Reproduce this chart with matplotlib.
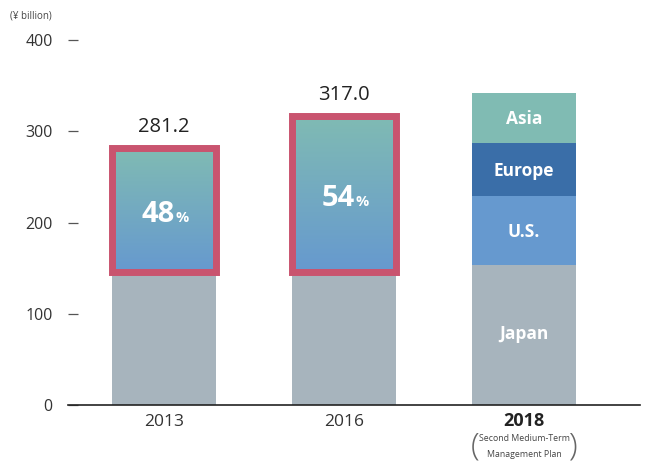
import numpy as np
import matplotlib
matplotlib.use("Agg")
import matplotlib.pyplot as plt
import matplotlib.transforms as mtransforms
from matplotlib.patches import Rectangle

# ---- data ----
years = ["2013", "2016", "2018"]
totals = [281.2, 317.0]
overseas_pct = [48, 54]
japan = [146.2, 145.8, 153.0]
plan_regions = ["U.S.", "Europe", "Asia"]
plan_values = [76.0, 58.0, 55.0]
yticks = [0, 100, 200, 300, 400]

plt.rcParams['font.family'] = ['Open Sans', 'DejaVu Sans']

gray = "#a7b4bd"
region_colors = {"U.S.": "#6699cf", "Europe": "#3a6ea8", "Asia": "#80bbb3"}
border = "#c9546f"
top_col = np.array([0x80, 0xbb, 0xb3]) / 255
bot_col = np.array([0x66, 0x99, 0xcf]) / 255

fig = plt.figure(figsize=(6.48, 4.63), dpi=100)
ax = fig.add_axes([68/648, 58/463, 572/648, 365/463])

x = np.arange(len(years))
w = 0.58

# Japan bars
ax.bar(x, japan, width=w, color=gray, zorder=2)

# gradient overseas boxes for 2013, 2016
grad = np.linspace(0, 1, 256)[:, None]
img = top_col[None, None, :] * (1 - grad[..., None]) + bot_col[None, None, :] * grad[..., None]
img = np.repeat(img, 2, axis=1)
for i, tot in enumerate(totals):
    ax.imshow(img, extent=(x[i]-w/2, x[i]+w/2, japan[i], tot), aspect='auto',
              origin='upper', zorder=3, interpolation='bilinear')
    ax.add_patch(Rectangle((x[i]-w/2, japan[i]), w, tot-japan[i], fill=False,
                           edgecolor=border, linewidth=5, zorder=4, joinstyle='miter'))
    ax.text(x[i], tot + 12, f"{tot:.1f}", ha='center', va='bottom', fontsize=14.5,
            color='#222222', zorder=5)
    mid = (japan[i] + tot) / 2
    tr1 = mtransforms.offset_copy(ax.transData, fig=fig, x=8, y=0, units='points')
    ax.text(x[i], mid - 13, str(overseas_pct[i]), ha='right', va='baseline', fontsize=21,
            fontweight='bold', color='white', transform=tr1, zorder=5)
    tr2 = mtransforms.offset_copy(ax.transData, fig=fig, x=8.5, y=0, units='points')
    ax.text(x[i], mid - 13, "%", ha='left', va='baseline', fontsize=10.5,
            fontweight='bold', color='white', transform=tr2, zorder=5)

# 2018 plan stacked
bottom = japan[2]
for name, val in zip(plan_regions, plan_values):
    ax.bar(x[2], val, bottom=bottom, width=w, color=region_colors[name], zorder=2)
    ax.text(x[2], bottom + val/2 - 1.5, name, ha='center', va='center', fontsize=12.5,
            fontweight='bold', color='white', zorder=5)
    bottom += val
ax.text(x[2], japan[2]/2 + 1, "Japan", ha='center', va='center', fontsize=12.5,
        fontweight='bold', color='white', zorder=5)

ax.set_xlim(-0.533, 2.644)
ax.set_ylim(0, 400)

for s in ['top', 'right', 'left']:
    ax.spines[s].set_visible(False)
ax.spines['bottom'].set_linewidth(1.2)
ax.spines['bottom'].set_color('#222222')
ax.spines['bottom'].set_zorder(6)

ax.set_yticks(yticks)
ax.set_yticklabels([str(v) for v in yticks], fontsize=11.5, color='#333333')
ax.tick_params(axis='y', direction='in', length=7, width=0.9, color='#555555', pad=11)

ax.set_xticks(x)
ax.set_xticklabels([])
ax.tick_params(axis='x', length=0)
for i, yr in enumerate(years[:2]):
    ax.text(x[i], -10, yr, ha='center', va='top', fontsize=12.5, color='#333333')
ax.text(x[2], -8, years[2], ha='center', va='top', fontsize=13, fontweight='bold',
        color='#222222')
ax.text(x[2], -32, "Second Medium-Term\nManagement Plan", ha='center', va='top',
        fontsize=6.3, color='#444444', linespacing=1.95)
ax.text(x[2] - 0.27, -45, "(", ha='center', va='center', fontsize=23,
        fontweight='light', color='#666666')
ax.text(x[2] + 0.27, -45, ")", ha='center', va='center', fontsize=23,
        fontweight='light', color='#666666')

fig.text(10/648, 1 - 16/463, "(¥ billion)", ha='left', va='center', fontsize=7,
         color='#444444')

fig.savefig("out.png", dpi=100)
